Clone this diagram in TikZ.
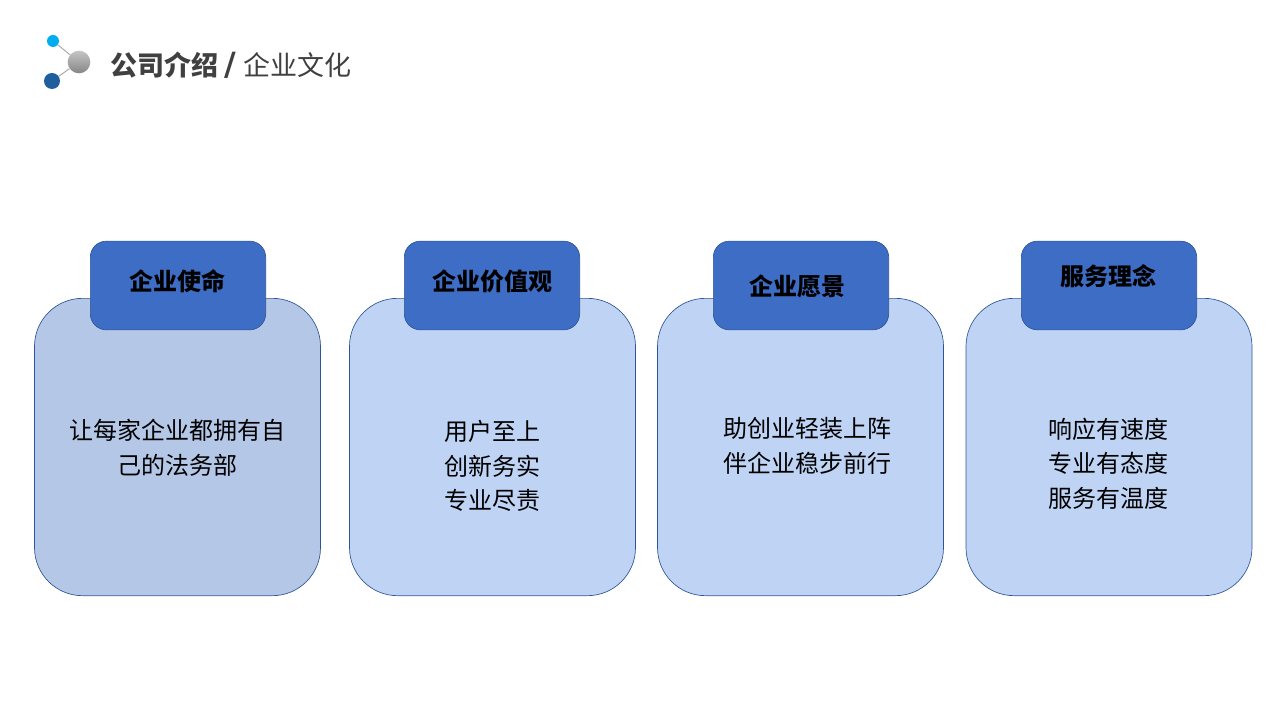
\documentclass[tikz,border=0pt]{standalone}
\usepackage{fontspec}
\setmainfont{Noto Sans CJK SC}
\newfontfamily\slashfont{DejaVu Sans}
\definecolor{cardA}{HTML}{B4C7E7}
\definecolor{cardB}{HTML}{BFD4F4}
\definecolor{tabfill}{HTML}{3E6DC6}
\definecolor{edgeblue}{HTML}{2F5597}
\definecolor{titlegray}{HTML}{404040}
\definecolor{dotcyan}{HTML}{00AEEF}
\definecolor{dotblue}{HTML}{1F5F9E}
\tikzset{
	card/.style={draw=edgeblue,line width=0.5pt,rounded corners=36pt,minimum width=214.5pt,minimum height=223pt,inner sep=0pt},
	tab/.style={draw=edgeblue,line width=0.5pt,fill=tabfill,rounded corners=12pt,minimum width=131.5pt,minimum height=66.5pt,inner sep=0pt},
	tablabel/.style={font=\fontsize{18}{24}\selectfont\bfseries,text=black,inner sep=0pt},
	cardtext/.style={font=\fontsize{18}{26}\selectfont,text=black,align=center,inner sep=0pt},
	dot/.style={circle,inner sep=0pt},
}
\begin{document}
\begin{tikzpicture}[x=0.75pt,y=0.75pt,yscale=-1,xscale=1]
			\useasboundingbox (0,0) rectangle (1280,720);
			
			\draw (53,41) node (topdot) [dot,fill=dotcyan,minimum size=9pt] {};
			\draw (79,62) node (ball) [dot,top color=gray!45,bottom color=gray!95,minimum size=17pt] {};
			\draw (52,81) node (lowdot) [dot,fill=dotblue,minimum size=12pt] {};
			\draw[gray!70,line width=0.7pt] (topdot) -- (ball);
			\draw[gray!70,line width=0.7pt] (lowdot) -- (ball);
			\draw (110,65.5) node (title) [anchor=west,inner sep=0pt,text=titlegray,font=\fontsize{20.25}{24}\selectfont] {\textbf{公司介绍\hspace{5pt}{\fontsize{24}{24}\selectfont\slashfont /}}\hspace{5pt}企业文化};
			
			\draw (177.5,447) node (cardone) [card,fill=cardA] {};
			\draw (492.5,447) node (cardtwo) [card,fill=cardB] {};
			\draw (800.5,447) node (cardthree) [card,fill=cardB] {};
			\draw (1109,447) node (cardfour) [card,fill=cardB] {};
			
			\draw (178,285.5) node (tabone) [tab] {};
			\draw (492,285.5) node (tabtwo) [tab] {};
			\draw (801,285.5) node (tabthree) [tab] {};
			\draw (1109,285.5) node (tabfour) [tab] {};
			
			\draw (177,281) node (labelone) [tablabel] {企业使命};
			\draw (492,281) node (labeltwo) [tablabel] {企业价值观};
			\draw (797,286) node (labelthree) [tablabel] {企业愿景};
			\draw (1108,276) node (labelfour) [tablabel] {服务理念};
			
			\draw (177,448) node (textone) [cardtext] {让每家企业都拥有自\\己的法务部};
			\draw (492,466) node (texttwo) [cardtext] {用户至上\\创新务实\\专业尽责};
			\draw (807,446) node (textthree) [cardtext] {助创业轻装上阵\\伴企业稳步前行};
			\draw (1108,463.5) node (textfour) [cardtext] {响应有速度\\专业有态度\\服务有温度};
\end{tikzpicture}
\end{document}
